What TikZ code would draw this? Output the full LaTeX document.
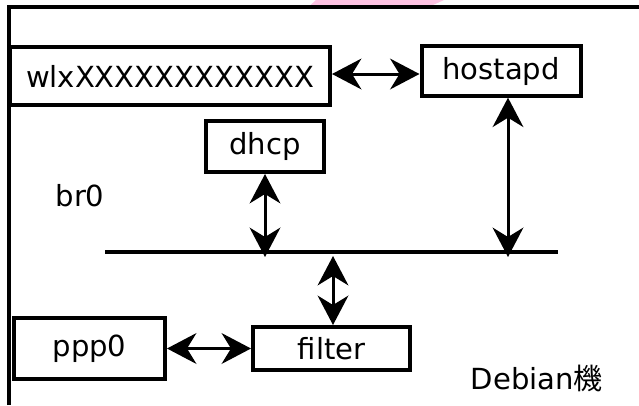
\documentclass[tikz,border=0pt]{standalone}
\usepackage{fontspec}
\setmainfont{DejaVu Sans}
\newfontfamily\cjk{Noto Sans CJK JP}
\usetikzlibrary{arrows.meta}

\tikzset{
  box/.style={draw=black, line width=3pt, rectangle, inner sep=0pt,
              font=\fontsize{21.8}{26}\selectfont},
  label/.style={inner sep=0pt, font=\fontsize{21.8}{26}\selectfont},
  link/.style={line width=2.25pt, {Stealth[length=22pt 0,width=23pt 0,inset=7pt 0]}-{Stealth[length=22pt 0,width=23pt 0,inset=7pt 0]}},
  frameline/.style={line width=3pt},
}

\begin{document}
\begin{tikzpicture}[x=0.75pt, y=-0.75pt]
  \useasboundingbox (0,0) rectangle (639,405);

  % pink fragment behind the frame
  \fill[fill={rgb,255:red,255;green,196;blue,228}] (310,5.5) -- (316,0) -- (444,0) -- (432,5.5) -- cycle;

  % outer frame (top and left sides)
  \draw[frameline] (9,405) -- (9,7) -- (639,7);

  % interfaces and services
  \node[box, minimum width=240pt, minimum height=43.5pt] (wlx) at (170,76) {wlxXXXXXXXXXXXX};
  \node[box, minimum width=119.25pt, minimum height=37pt] (hostapd) at (501,71) {hostapd};
  \node[box, minimum width=88.5pt, minimum height=38.25pt] (dhcp) at (265,146.5) {dhcp};
  \node[box, minimum width=113.25pt, minimum height=45.75pt] (ppp0) at (89.5,348.5) {ppp0};
  \node[box, minimum width=117.75pt, minimum height=32.25pt] (filter) at (331.5,348.5) {filter};

  \node[label] (br) at (80,196) {br0};
  \node[label] (host) at (537,378) {Debian{\cjk 機}};

  % bridge bus
  \coordinate (busL) at (105,252);
  \coordinate (busR) at (558,252);
  \draw[frameline] (busL) -- (busR);

  % taps on the bus
  \coordinate (tapD) at (265,257);
  \coordinate (tapH) at (508,257);
  \coordinate (tapF) at (333,256);
  \coordinate (tapW) at (333,74);

  % connections
  \draw[link] (wlx.east |- tapW) -- (hostapd.west |- tapW);
  \draw[link] (dhcp.south -| tapD) -- (tapD);
  \draw[link] (hostapd.south -| tapH) -- (tapH);
  \draw[link] (tapF) -- (filter.north -| tapF);
  \draw[link] (ppp0.east) -- (filter.west);
\end{tikzpicture}
\end{document}
